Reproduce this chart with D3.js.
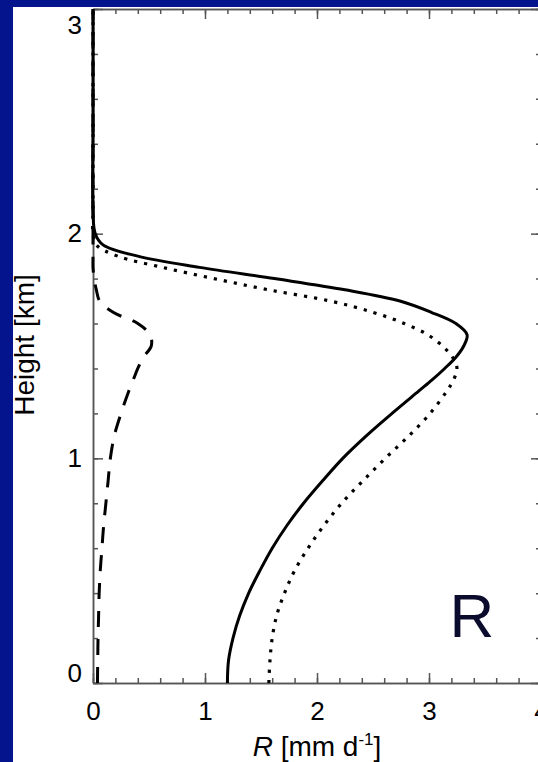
<!DOCTYPE html>
<html>

<head>
    <meta http-equiv="Content-Type" content="text/html; charset=utf-8">
    <title>R profile</title>
    <style type="text/css">
        html,
        body {
            margin: 0;
            padding: 0;
            background: #04148c;
        }

        svg {
            display: block;
        }

        text {
            font-family: "Liberation Sans", Arial, sans-serif;
            fill: #000;
        }

        .axis path,
        .axis line {
            stroke: #555;
            stroke-width: 1.5;
        }
    </style>
</head>

<body>
    <script src="https://d3js.org/d3.v7.min.js"></script>
    <script>
        // heights [km] shared by the three profiles
        var heights = [0, 0.1, 0.2, 0.3, 0.4, 0.5, 0.6, 0.7, 0.8, 0.9, 1.0, 1.1, 1.2, 1.3, 1.35, 1.4, 1.45, 1.5, 1.55,
            1.6, 1.65, 1.7, 1.75, 1.8, 1.85, 1.9, 1.95, 2.0, 2.1, 2.5, 3.0];

        // R [mm d-1]
        var solidR = [1.20, 1.21, 1.25, 1.31, 1.39, 1.49, 1.60, 1.73, 1.88, 2.05, 2.23, 2.44, 2.67, 2.91, 3.03, 3.14,
            3.24, 3.31, 3.34, 3.24, 3.02, 2.74, 2.25, 1.62, 0.95, 0.40, 0.09, 0.02, 0.0, 0.0, 0.0];
        var dottedR = [1.57, 1.58, 1.60, 1.64, 1.71, 1.80, 1.92, 2.06, 2.22, 2.41, 2.61, 2.82, 3.01, 3.16, 3.22, 3.25,
            3.21, 3.12, 2.99, 2.78, 2.50, 2.12, 1.57, 1.08, 0.62, 0.22, 0.03, 0.0, 0.0, 0.0, 0.0];
        var dashedR = [0.04, 0.042, 0.045, 0.05, 0.055, 0.065, 0.08, 0.095, 0.115, 0.135, 0.155, 0.19, 0.25, 0.32, 0.36,
            0.40, 0.45, 0.52, 0.51, 0.40, 0.18, 0.06, 0.03, 0.01, 0.0, 0.0, 0.0, 0.0, 0.0, 0.0, 0.0];

        var xTicks = [0, 1, 2, 3, 4];
        var yTicks = [0, 1, 2, 3];
        var xMinor = d3.range(0, 4.01, 0.2);
        var yMinor = d3.range(0, 3.01, 0.2);

        var width = 538,
            height = 762;

        var svg = d3.select("body")
            .append("svg")
            .attr("width", width)
            .attr("height", height);

        // navy frame then white page
        svg.append("rect")
            .attr("width", width)
            .attr("height", height)
            .attr("fill", "#04148c");
        svg.append("rect")
            .attr("x", 13)
            .attr("y", 7)
            .attr("width", width - 13)
            .attr("height", height - 7)
            .attr("fill", "#fff");

        var x = d3.scaleLinear().domain([0, 4]).range([93, 541]);
        var y = d3.scaleLinear().domain([0, 3]).range([683, 9]);

        function addAxis(axis, tx, ty) {
            return svg.append("g")
                .attr("class", "axis")
                .attr("transform", "translate(" + tx + "," + ty + ")")
                .call(axis);
        }

        // minor ticks (no labels) on all four sides
        addAxis(d3.axisBottom(x).tickValues(xMinor).tickSize(-5).tickSizeOuter(0).tickFormat(""), 0, y(0));
        addAxis(d3.axisTop(x).tickValues(xMinor).tickSize(-5).tickSizeOuter(0).tickFormat(""), 0, y(3));
        addAxis(d3.axisLeft(y).tickValues(yMinor).tickSize(-5).tickSizeOuter(0).tickFormat(""), x(0), 0);
        addAxis(d3.axisRight(y).tickValues(yMinor).tickSize(-5).tickSizeOuter(0).tickFormat(""), x(4), 0);

        // major ticks
        var bottom = addAxis(d3.axisBottom(x).tickValues(xTicks).tickSize(-10).tickSizeOuter(0)
            .tickPadding(19).tickFormat(d3.format("d")), 0, y(0));
        addAxis(d3.axisTop(x).tickValues(xTicks).tickSize(-10).tickSizeOuter(0).tickFormat(""), 0, y(3));
        var left = addAxis(d3.axisLeft(y).tickValues(yTicks).tickSize(-10).tickSizeOuter(0)
            .tickPadding(11).tickFormat(d3.format("d")), x(0), 0);
        addAxis(d3.axisRight(y).tickValues(yTicks).tickSize(-10).tickSizeOuter(0).tickFormat(""), x(4), 0);

        svg.selectAll(".axis text")
            .attr("font-family", null)
            .style("font-size", "26px")
            .style("fill", "#000");

        // keep the end labels inside the box
        left.selectAll(".tick text")
            .attr("dy", function(d) {
                if (d == 3) return "0.95em";
                if (d == 0) return "-0.05em";
                return "0.32em";
            });

        // profiles
        var line = d3.line()
            .x(function(d) { return x(d[0]); })
            .y(function(d) { return y(d[1]); })
            .curve(d3.curveCatmullRom.alpha(0.5));

        function profile(values) {
            return values.map(function(v, i) { return [v, heights[i]]; });
        }

        svg.append("path")
            .datum(profile(dashedR))
            .attr("d", line)
            .attr("fill", "none")
            .attr("stroke", "#000")
            .attr("stroke-width", 3)
            .attr("stroke-dasharray", "16,12");

        svg.append("path")
            .datum(profile(dottedR))
            .attr("d", line)
            .attr("fill", "none")
            .attr("stroke", "#000")
            .attr("stroke-width", 3.2)
            .attr("stroke-dasharray", "3.2,7");

        svg.append("path")
            .datum(profile(solidR))
            .attr("d", line)
            .attr("fill", "none")
            .attr("stroke", "#000")
            .attr("stroke-width", 3);

        // axis titles
        var xt = svg.append("text")
            .attr("x", x(2))
            .attr("y", 756)
            .attr("text-anchor", "middle")
            .style("font-size", "28px");
        xt.append("tspan").style("font-style", "italic").text("R");
        xt.append("tspan").text(" [mm d");
        xt.append("tspan").attr("dy", -11).style("font-size", "17px").text("-1");
        xt.append("tspan").attr("dy", 11).text("]");

        svg.append("text")
            .attr("transform", "translate(34," + 345 + ") rotate(-90)")
            .attr("text-anchor", "middle")
            .style("font-size", "28px")
            .text("Height [km]");

        // panel letter
        svg.append("text")
            .attr("x", 472)
            .attr("y", 637)
            .attr("text-anchor", "middle")
            .style("font-size", "62px")
            .style("fill", "#0b0b2e")
            .text("R");
    </script>
</body>

</html>
